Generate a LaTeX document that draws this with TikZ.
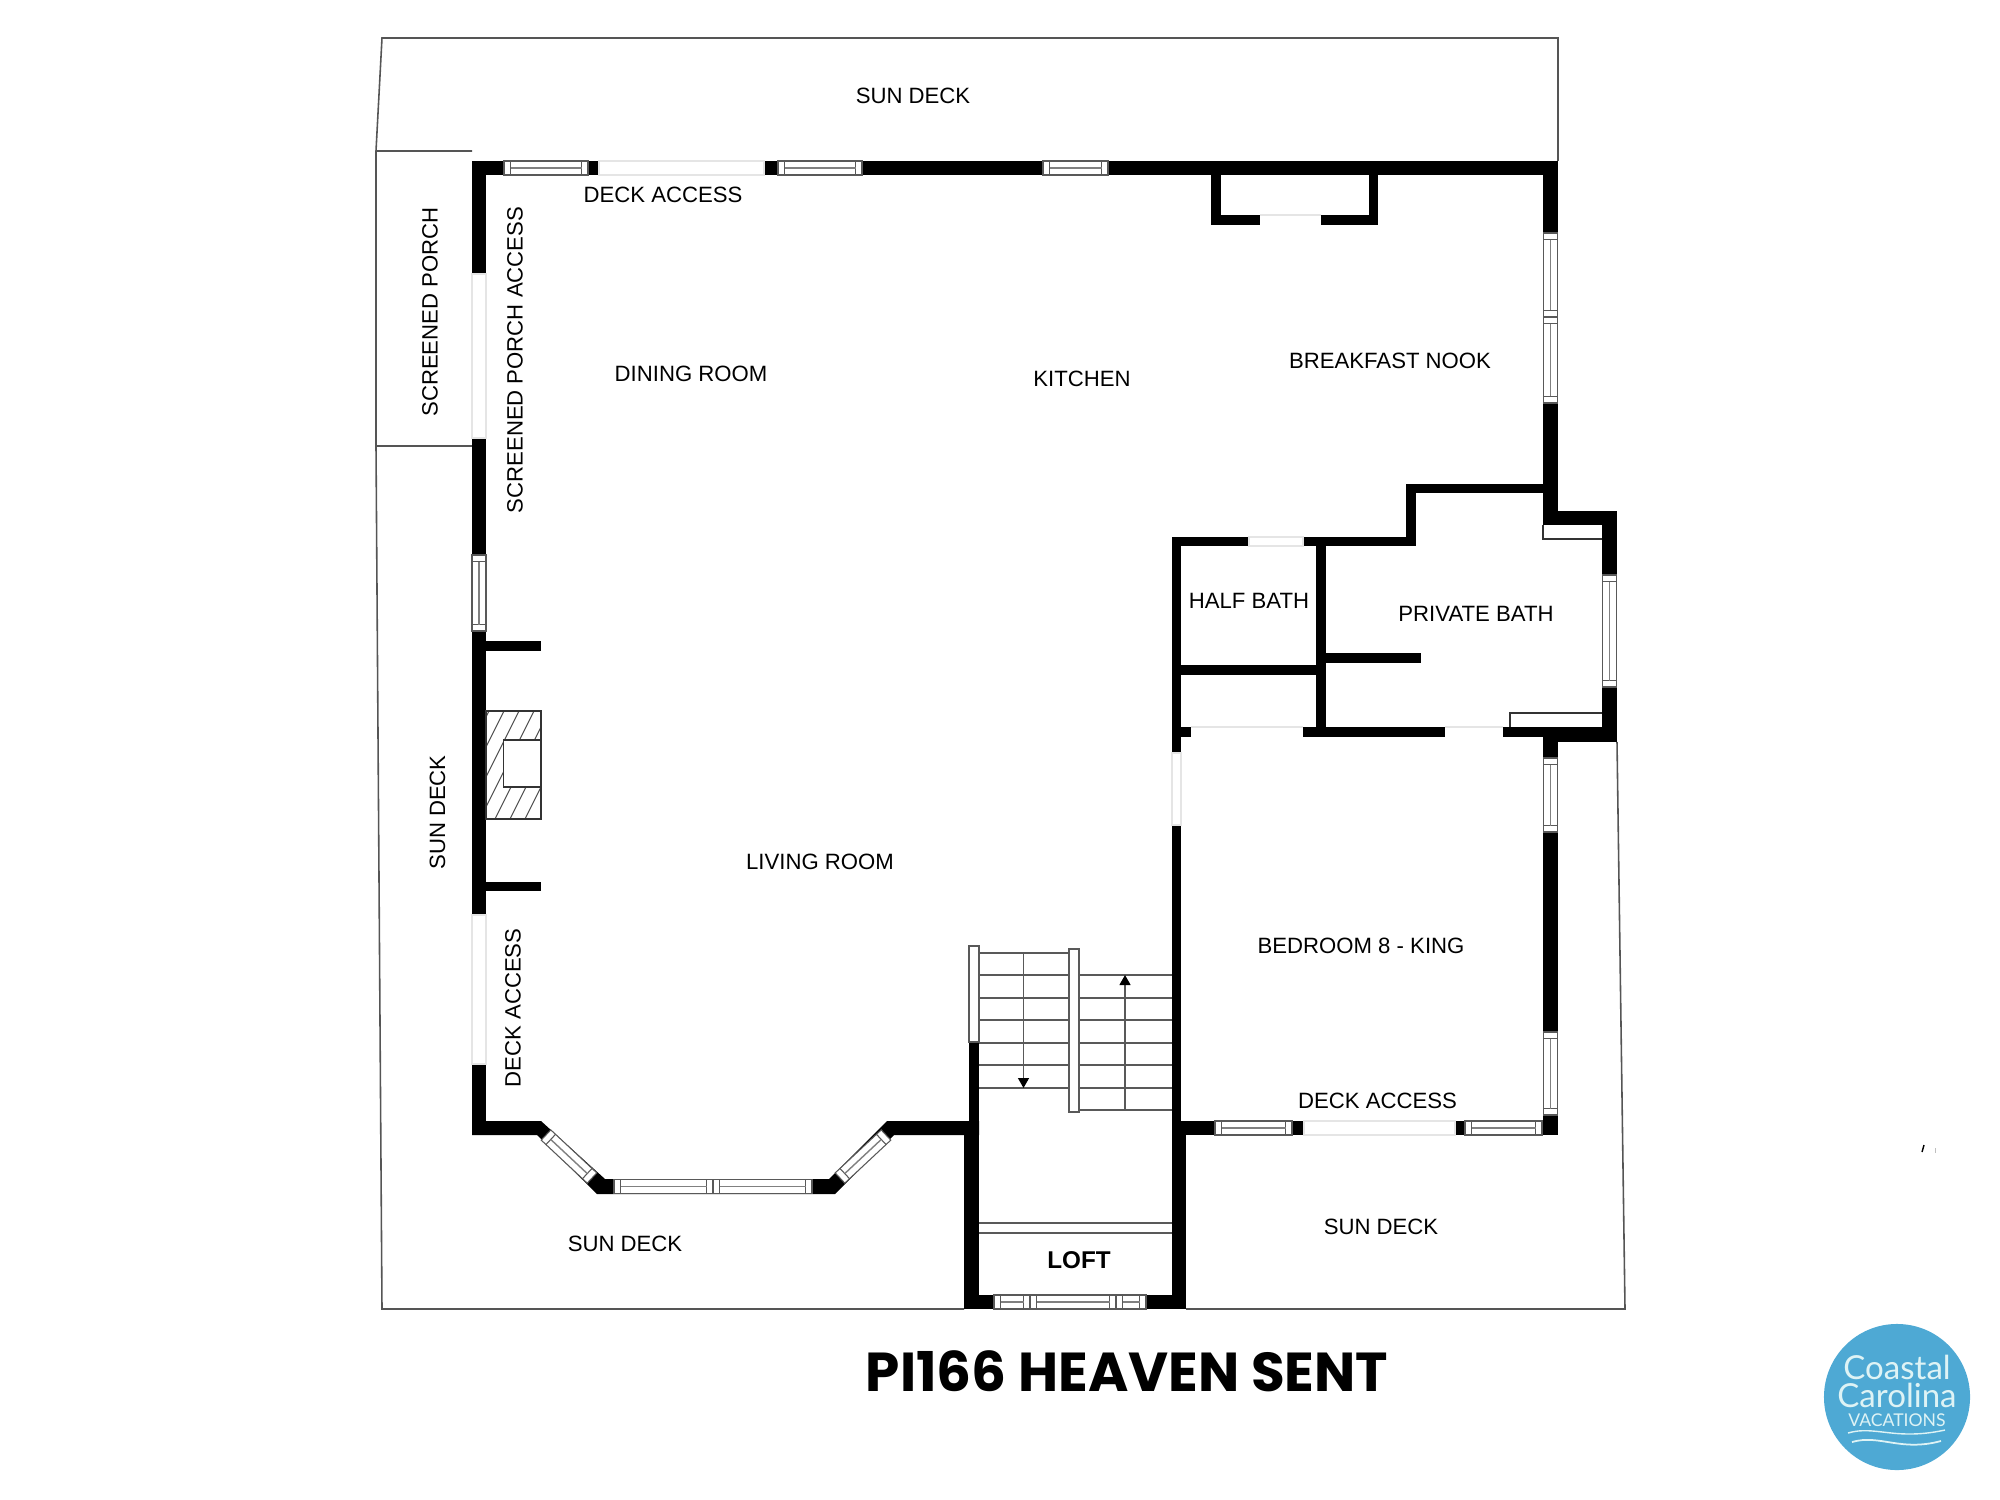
\documentclass[tikz,border=0pt]{standalone}
\usepackage{fontspec}
\setmainfont{Liberation Sans}
\newfontfamily\titlefont{Poppins}
\newfontfamily\logofont{Lato}
\usetikzlibrary{arrows.meta,calc}
\definecolor{logoblue}{RGB}{78,169,212}
\definecolor{logotext}{RGB}{222,243,245}
\definecolor{deckgray}{RGB}{85,85,85}
\newcommand{\winbar}[3]{%
  \coordinate (wa) at (#1); \coordinate (wb) at (#2);
  \coordinate (wc) at ($(wa)!0.065cm!(wb)$);
  \coordinate (wd) at ($(wb)!0.065cm!(wa)$);
  \draw[winline, fill=white] ($(wa)!#3!90:(wb)$) -- ($(wa)!#3!-90:(wb)$)
    -- ($(wb)!#3!90:(wa)$) -- ($(wb)!#3!-90:(wa)$) -- cycle;
  \draw[winline] ($(wc)!#3!90:(wd)$) -- ($(wc)!#3!-90:(wd)$);
  \draw[winline] ($(wd)!#3!90:(wc)$) -- ($(wd)!#3!-90:(wc)$);
  \draw[winline, line width=0.4pt, black!50] (wc) -- (wd);
}
\begin{document}
\begin{tikzpicture}[
    x=0.01cm, y=-0.01cm,
    wall/.style={fill=black},
    deckline/.style={draw=deckgray, line width=0.45pt},
    winline/.style={draw=black!65, line width=0.3pt},
    doorline/.style={draw=black!10, line width=0.3pt, fill=white},
    doortop/.style={draw=black!10, line width=0.3pt},
    thinline/.style={draw=black!80, line width=0.4pt},
    treadline/.style={draw=black!65, line width=0.35pt},
    stairtip/.style={-{Triangle[length=0.1cm,width=0.11cm,black]}},
    roomlabel/.style={inner sep=0pt, font=\fontsize{6.3}{7.5}\selectfont},
    vlabel/.style={roomlabel, rotate=90}
]
    \useasboundingbox (0,0) rectangle (2000,1500);

    % Deck outlines
    \draw[deckline] (472,151) -- (376,151) -- (382,38) -- (1558,38) -- (1558,161);
    \draw[deckline] (472,446) -- (376,446) -- (376,151);
    \draw[deckline] (376,446) -- (382,1309) -- (964,1309);
    \draw[deckline] (1186,1309) -- (1625,1309) -- (1617,742);

    % Top wall and alcove
    \fill[wall] (472,161) rectangle (599,175);
    \fill[wall] (764,161) rectangle (1558,175);
    \fill[wall] (1211,175) rectangle (1221,225);
    \fill[wall] (1369,175) rectangle (1378,225);
    \fill[wall] (1211,215) rectangle (1260,225);
    \fill[wall] (1321,215) rectangle (1378,225);

    % Left wall
    \fill[wall] (472,161) rectangle (486,274);
    \fill[wall] (472,438) rectangle (486,555);
    \fill[wall] (472,631) rectangle (486,915);
    \fill[wall] (472,1064) rectangle (486,1135);
    \fill[wall] (486,641) rectangle (541,651);
    \fill[wall] (486,882) rectangle (541,891);

    % Bay
    \fill[wall] (472,1121) -- (541,1121) -- (605,1179) -- (829,1179) -- (887,1121)
        -- (979,1121) -- (979,1135) -- (894,1135) -- (835,1194) -- (597,1194)
        -- (537,1135) -- (472,1135) -- cycle;

    % Right wall and bump
    \fill[wall] (1543,161) rectangle (1558,233);
    \fill[wall] (1543,403) rectangle (1558,525);
    \fill[wall] (1543,511) rectangle (1617,525);
    \fill[wall] (1602,511) rectangle (1617,575);
    \fill[wall] (1602,687) rectangle (1617,742);
    \fill[wall] (1503,727) rectangle (1617,737);
    \fill[wall] (1543,737) rectangle (1617,742);
    \fill[wall] (1543,737) rectangle (1558,758);
    \fill[wall] (1543,832) rectangle (1558,1032);
    \fill[wall] (1543,1115) rectangle (1558,1135);

    % Baths
    \fill[wall] (1406,484) rectangle (1543,493);
    \fill[wall] (1406,484) rectangle (1416,546);
    \fill[wall] (1303,537) rectangle (1416,546);
    \fill[wall] (1172,537) rectangle (1249,546);
    \fill[wall] (1172,537) rectangle (1181,753);
    \fill[wall] (1172,727) rectangle (1191,737);
    \fill[wall] (1303,727) rectangle (1445,737);
    \fill[wall] (1316,537) rectangle (1326,737);
    \fill[wall] (1181,665) rectangle (1316,675);
    \fill[wall] (1326,653) rectangle (1421,663);
    \draw[thinline] (1543,525) -- (1543,539) -- (1602,539);
    \draw[thinline] (1510,727) -- (1510,713) -- (1602,713);

    % Bedroom and loft walls
    \fill[wall] (1172,825) rectangle (1181,1135);
    \fill[wall] (1172,1121) rectangle (1215,1135);
    \fill[wall] (1172,1135) rectangle (1186,1309);
    \fill[wall] (1292,1121) rectangle (1304,1135);
    \fill[wall] (1455,1121) rectangle (1465,1135);
    \fill[wall] (1542,1121) rectangle (1558,1135);
    \fill[wall] (969,1042) rectangle (979,1135);
    \fill[wall] (964,1121) rectangle (979,1309);
    \fill[wall] (964,1295) rectangle (994,1309);
    \fill[wall] (1146,1295) rectangle (1186,1309);

    % Doors
    \draw[doorline] (599,161) rectangle (764,175);
    \draw[doorline] (472,274) rectangle (486,438);
    \draw[doorline] (472,915) rectangle (486,1064);
    \draw[doortop] (1260,215) -- (1321,215);
    \draw[doorline] (1249,537) rectangle (1303,546);
    \draw[doortop] (1191,727) -- (1303,727);
    \draw[doortop] (1445,727) -- (1503,727);
    \draw[doorline] (1172,753) rectangle (1181,825);
    \draw[doorline] (1304,1121) rectangle (1455,1135);

    % Windows
    \winbar{504,168}{588,168}{0.07cm}
    \winbar{778,168}{862,168}{0.07cm}
    \winbar{1043,168}{1108,168}{0.07cm}
    \winbar{479,555}{479,631}{0.07cm}
    \winbar{1550.5,233}{1550.5,317}{0.07cm}
    \winbar{1550.5,317}{1550.5,403}{0.07cm}
    \winbar{1609.5,575}{1609.5,687}{0.07cm}
    \winbar{1550.5,758}{1550.5,832}{0.07cm}
    \winbar{1550.5,1032}{1550.5,1115}{0.07cm}
    \winbar{1215,1128}{1292,1128}{0.07cm}
    \winbar{1465,1128}{1542,1128}{0.07cm}
    \winbar{614,1186.5}{713,1186.5}{0.07cm}
    \winbar{713,1186.5}{812,1186.5}{0.07cm}
    \winbar{546,1135}{592,1178}{0.07cm}
    \winbar{840,1178}{886,1135}{0.07cm}
    \winbar{994,1302}{1030,1302}{0.07cm}
    \winbar{1030,1302}{1116,1302}{0.07cm}
    \winbar{1116,1302}{1146,1302}{0.07cm}

    % Fireplace
    \begin{scope}
        \clip (486,711) rectangle (541,819);
        \foreach \hx in {3,18,...,123} {
            \draw[line width=0.3pt, black!70] (486+\hx-54,819) -- (486+\hx,711);
        }
    \end{scope}
    \draw[thinline, fill=white] (503.5,740) rectangle (541,787);
    \draw[thinline] (486,711) rectangle (541,819);

    % Stairs
    \foreach \ty in {953,975,998,1020,1043,1065,1088} {
        \draw[treadline] (979,\ty) -- (1069,\ty);
    }
    \foreach \ty in {975,998,1020,1043,1065,1088,1110} {
        \draw[treadline] (1079,\ty) -- (1172,\ty);
    }
    \draw[treadline, fill=white] (969,946) rectangle (979,1042);
    \draw[treadline, fill=white] (1069,949) rectangle (1079,1112);
    \draw[treadline, stairtip] (1023.5,953) -- (1023.5,1088);
    \draw[treadline, stairtip] (1125,1110) -- (1125,975);
    \draw[treadline] (979,1223) -- (1172,1223);
    \draw[treadline] (979,1233) -- (1172,1233);

    % Labels
    \node[roomlabel] (deckTop) at (913,96) {SUN DECK};
    \node[roomlabel] (accessTop) at (663,195) {DECK ACCESS};
    \node[vlabel] (porch) at (430,312) {SCREENED PORCH};
    \node[vlabel] (porchAccess) at (515,360) {SCREENED PORCH ACCESS};
    \node[roomlabel] (dining) at (691,374) {DINING ROOM};
    \node[roomlabel] (kitchen) at (1082,379) {KITCHEN};
    \node[roomlabel] (nook) at (1390,361) {BREAKFAST NOOK};
    \node[roomlabel] (halfBath) at (1249,601) {HALF BATH};
    \node[roomlabel] (privateBath) at (1476,613.5) {PRIVATE BATH};
    \node[vlabel] (deckLeft) at (437.5,812.5) {SUN DECK};
    \node[roomlabel] (living) at (820,862) {LIVING ROOM};
    \node[vlabel] (accessLeft) at (513,1008) {DECK ACCESS};
    \node[roomlabel] (bedroom) at (1361,946) {BEDROOM 8 - KING};
    \node[roomlabel] (accessBed) at (1377.5,1101) {DECK ACCESS};
    \node[roomlabel] (deckBottom) at (625,1244) {SUN DECK};
    \node[roomlabel] (deckRight) at (1381,1227) {SUN DECK};
    \node[roomlabel, font=\fontsize{6.9}{8}\selectfont\bfseries] (loft) at (1079,1260) {LOFT};
    \node[inner sep=0pt, font=\fontsize{15.6}{17}\selectfont\titlefont\bfseries] (title) at (1127,1371) {PI166 HEAVEN SENT};

    % Logo
    \fill[logoblue] (1897,1397) circle (0.73cm);
    \node[inner sep=0pt, text=logotext, font=\fontsize{9.4}{10}\selectfont\logofont] (coastal) at (1897,1367) {Coastal};
    \node[inner sep=0pt, text=logotext, font=\fontsize{9.4}{10}\selectfont\logofont] (carolina) at (1897,1395) {Carolina};
    \node[inner sep=0pt, text=logotext, font=\fontsize{5}{6}\selectfont\logofont] (vacations) at (1897,1420) {VACATIONS};
    \draw[logotext, line width=0.4pt] (1848,1433) .. controls (1875,1425) and (1895,1441) .. (1945,1430);
    \draw[logotext, line width=0.5pt] (1852,1442) .. controls (1880,1434) and (1900,1452) .. (1941,1441);

    % Stray mark
    \draw[black, line width=0.4pt] (1924,1145) -- (1922,1152);
    \draw[black!25, line width=0.3pt] (1935,1148) -- (1935,1153);
\end{tikzpicture}
\end{document}
